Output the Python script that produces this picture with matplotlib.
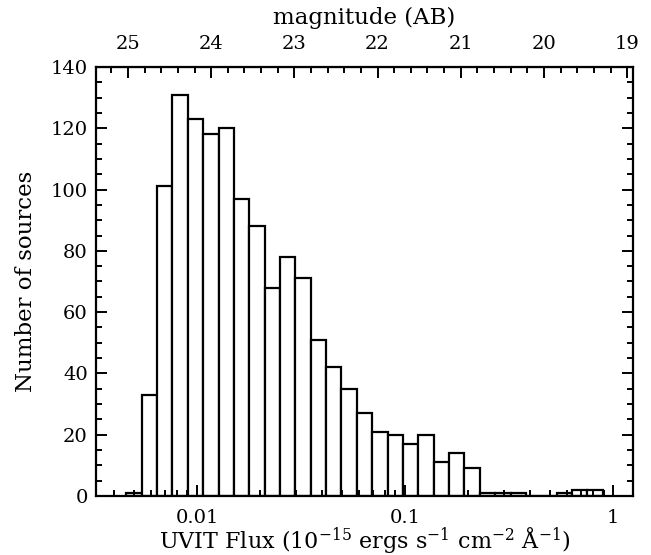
import numpy as np
import matplotlib
matplotlib.use('Agg')
import matplotlib.pyplot as plt
from matplotlib.ticker import (MultipleLocator, FixedLocator, LogLocator,
                               NullFormatter, FormatStrFormatter)

# histogram bins: equal width in log10(flux)
log_first_edge = -2.34
log_bin_width = 0.0739
counts = [1, 33, 101, 131, 123, 118, 120, 97, 88, 68, 78, 71, 51, 42, 35,
          27, 21, 20, 17, 20, 11, 14, 9, 1, 1, 1, 0, 0, 1, 2, 2]
edges = 10 ** (log_first_edge + log_bin_width * np.arange(len(counts) + 1))

flux_ticks = [0.01, 0.1, 1]
flux_labels = ['0.01', '0.1', '1']
mag_ticks = [25, 24, 23, 22, 21, 20, 19]
zero_point = 19.17  # AB mag for flux = 1e-15 erg/s/cm2/A


def flux_to_mag(f):
    f = np.clip(f, 1e-10, None)
    return zero_point - 2.5 * np.log10(f)


def mag_to_flux(m):
    return 10 ** ((zero_point - m) / 2.5)


plt.rcParams['font.family'] = 'DejaVu Serif'
plt.rcParams['mathtext.fontset'] = 'dejavuserif'

fig = plt.figure(figsize=(6.51, 5.55), dpi=100)
ax = fig.add_axes([0.1475, 0.1063, 0.8249, 0.773])

ax.bar(edges[:-1], counts, width=np.diff(edges), align='edge',
       facecolor='white', edgecolor='black', linewidth=1.6)

ax.set_xscale('log')
ax.set_xlim(0.00327, 1.248)
ax.set_ylim(0, 140)

ax.xaxis.set_major_locator(FixedLocator(flux_ticks))
ax.set_xticklabels(flux_labels)
ax.xaxis.set_minor_locator(LogLocator(base=10, subs=np.arange(2, 10)))
ax.xaxis.set_minor_formatter(NullFormatter())
ax.yaxis.set_major_locator(MultipleLocator(20))
ax.yaxis.set_minor_locator(MultipleLocator(5))

ax.tick_params(which='both', direction='in', right=True, top=False,
               labelsize=14, width=1.4)
ax.tick_params(which='major', length=8)
ax.tick_params(which='minor', length=4)
ax.tick_params(axis='x', which='major', pad=9)
ax.tick_params(axis='y', which='major', pad=6)
for s in ax.spines.values():
    s.set_linewidth(1.6)

ax.set_xlabel(r'UVIT Flux (10$^{-15}$ ergs s$^{-1}$ cm$^{-2}$ Å$^{-1}$)',
              fontsize=16, labelpad=-1)
ax.set_ylabel('Number of sources', fontsize=16.5, labelpad=10)

sec = ax.secondary_xaxis('top', functions=(flux_to_mag, mag_to_flux))
sec.xaxis.set_major_locator(FixedLocator(mag_ticks))
sec.xaxis.set_major_formatter(FormatStrFormatter('%d'))
sec.xaxis.set_minor_locator(MultipleLocator(0.2))
sec.xaxis.set_minor_formatter(NullFormatter())
sec.tick_params(which='both', direction='in', labelsize=14, width=1.4)
sec.tick_params(which='major', length=8, pad=10)
sec.tick_params(which='minor', length=4)
sec.set_xlabel('magnitude (AB)', fontsize=16.5, labelpad=8)

fig.savefig('out.png', dpi=100)
